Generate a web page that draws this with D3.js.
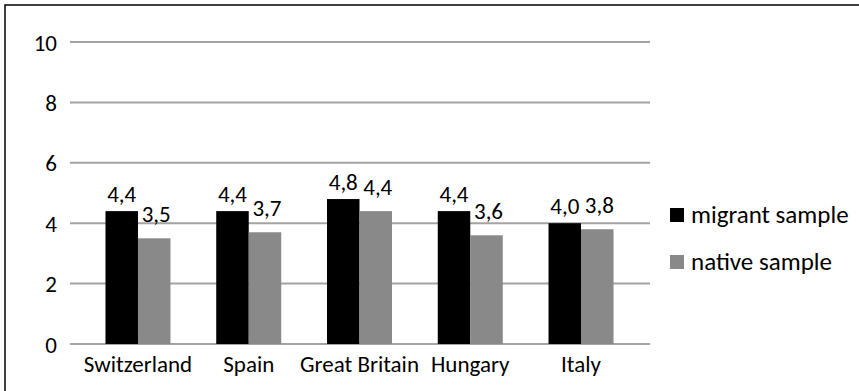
<!DOCTYPE html>
<html><head><meta charset="utf-8">
<script src="https://cdn.jsdelivr.net/npm/d3@7"></script>
<style>body{margin:0;background:#fff}svg{display:block}text{font-family:Carlito,Lato,sans-serif;fill:#000}</style>
</head><body><svg id="c" width="859" height="391"></svg>
<script>
const categories = ["Switzerland","Spain","Great Britain","Hungary","Italy"];
const migrant = [4.4,4.4,4.8,4.4,4.0];
const native = [3.5,3.7,4.4,3.6,3.8];
const seriesNames = ["migrant sample","native sample"];
const yTicks = [0,2,4,6,8,10];
const colors = ["#000000","#898989"];

const FS = 23;
const svg = d3.select("#c");
// border (left and top visible)
svg.append("rect").attr("x",5).attr("y",5).attr("width",900).attr("height",450)
  .attr("fill","none").attr("stroke","#000").attr("stroke-width",1.5);

const y = d3.scaleLinear().domain([0,10]).range([344,42]);
const gridX0 = 70, gridX1 = 650;
const x = d3.scaleBand().domain(categories).range([82.6,636.4]).paddingInner(0).paddingOuter(0);
const bw = 32.5;

// gridlines
svg.append("g").selectAll("line").data(yTicks).join("line")
  .attr("x1",gridX0).attr("x2",gridX1).attr("y1",d=>y(d)).attr("y2",d=>y(d))
  .attr("stroke","#a3a3a3").attr("stroke-width",2);

// y axis labels
const yAxis = d3.axisLeft(y).tickValues(yTicks).tickSize(0).tickPadding(0).tickFormat(d3.format("d"));
const ya = svg.append("g").attr("transform","translate(57,0)").call(yAxis);
ya.select(".domain").remove();
ya.selectAll("text").attr("font-size",FS).attr("font-family","Carlito,Lato,sans-serif").attr("fill","#000").attr("dy","0.35em");

// x axis labels
const xAxis = d3.axisBottom(x).tickSize(0).tickPadding(0);
const xa = svg.append("g").attr("transform","translate(0,355)").call(xAxis);
xa.select(".domain").remove();
xa.selectAll("text").attr("font-size",FS).attr("font-family","Carlito,Lato,sans-serif").attr("fill","#000").attr("dy","0.75em");

const fmt = v => d3.format(".1f")(v).replace(".",",");
const series = [migrant, native];
const offsets = [9,16];
series.forEach((vals,si)=>{
  const g = svg.append("g");
  g.selectAll("rect").data(vals).join("rect")
    .attr("x",(d,i)=>x(categories[i])+x.bandwidth()/2 - bw + si*bw)
    .attr("y",d=>y(d)).attr("width",bw).attr("height",d=>y(0)-y(d))
    .attr("fill",colors[si]);
  g.selectAll("text").data(vals).join("text")
    .attr("x",(d,i)=>x(categories[i])+x.bandwidth()/2 - bw/2 + si*bw + (si?2:0))
    .attr("y",d=>y(d)-offsets[si])
    .attr("text-anchor","middle").attr("font-size",FS).text(d=>fmt(d));
});

// legend
const lg = svg.append("g");
seriesNames.forEach((n,i)=>{
  lg.append("rect").attr("x",670).attr("y",208+i*47).attr("width",14).attr("height",14).attr("fill",colors[i]);
  lg.append("text").attr("x",691).attr("y",223+i*47).attr("font-size",25).text(n);
});
</script></body></html>
